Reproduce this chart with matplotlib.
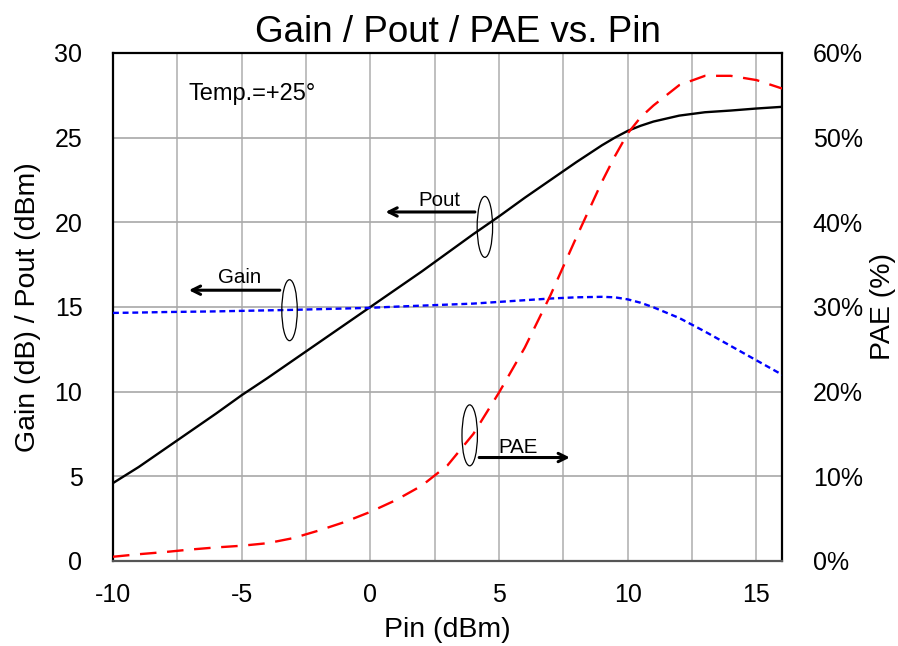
import matplotlib
matplotlib.use("Agg")
import matplotlib.pyplot as plt
from matplotlib.patches import Ellipse
from matplotlib.ticker import FuncFormatter, MultipleLocator

plt.rcParams['font.family'] = ['Liberation Sans', 'DejaVu Sans']
plt.rcParams['axes.unicode_minus'] = False

# data
pin = [-10, -9, -8, -7, -6, -5, -4, -3, -2, -1, 0, 1, 2, 3, 4, 5, 6, 7, 8, 9, 9.5, 10, 10.5, 11, 12, 13, 14, 15, 16]
pout = [4.6, 5.55, 6.6, 7.65, 8.7, 9.79, 10.8, 11.85, 12.9, 13.95, 15.0, 16.05, 17.1, 18.2, 19.3, 20.35,
        21.45, 22.5, 23.55, 24.55, 25.0, 25.4, 25.7, 25.95, 26.3, 26.5, 26.6, 26.72, 26.82]
gain = [14.65, 14.67, 14.7, 14.72, 14.74, 14.77, 14.8, 14.83, 14.87, 14.91, 14.95, 15.02, 15.08, 15.14, 15.2,
        15.3, 15.4, 15.5, 15.57, 15.6, 15.57, 15.45, 15.25, 14.98, 14.35, 13.55, 12.7, 11.85, 11.0]
pae = [0.5, 0.8, 1.05, 1.35, 1.6, 1.8, 2.1, 2.7, 3.6, 4.6, 5.8, 7.2, 8.9, 11.3, 15.0, 19.9, 25.2, 31.4,
       38.2, 44.8, 47.8, 50.5, 52.4, 53.8, 56.2, 57.3, 57.3, 56.8, 55.8]

x_ticks = [-10, -5, 0, 5, 10, 15]
y_ticks = [0, 5, 10, 15, 20, 25, 30]
pae_ticks = [0, 10, 20, 30, 40, 50, 60]

fig = plt.figure(figsize=(8.98, 6.46), dpi=100)
ax = fig.add_axes([0.1258, 0.1316, 0.7452, 0.7864])
ax2 = ax.twinx()

ax.set_xlim(-10, 16)
ax.set_ylim(0, 30)
ax2.set_ylim(0, 60)
ax.set_xticks(x_ticks)
ax.xaxis.set_minor_locator(MultipleLocator(2.5))
ax.set_yticks(y_ticks)
ax2.set_yticks(pae_ticks)
ax2.yaxis.set_major_formatter(FuncFormatter(lambda v, p: '%d%%' % v))

ax.grid(True, which='both', axis='x', color='#b4b4b4', lw=1.2)
ax.grid(True, which='major', axis='y', color='#a8a8a8', lw=1.2)
ax.set_axisbelow(True)

ax.tick_params(which='both', length=0, labelsize=18)
ax.tick_params(axis='x', pad=16)
ax.tick_params(axis='y', pad=22)
ax2.tick_params(length=0, labelsize=18, pad=22)

for sp in ax.spines.values():
    sp.set_color('black')
    sp.set_linewidth(1.6)
ax.spines['bottom'].set_color('#555555')
for sp in ax2.spines.values():
    sp.set_visible(False)

ax.plot(pin, pout, color='black', lw=1.7, zorder=3)
ax.plot(pin, gain, color='blue', lw=1.7, ls=(0, (2.5, 1.6)), zorder=3)
ax2.plot(pin, pae, color='red', lw=1.7, ls=(0, (7, 4.5)), zorder=3)

ax.set_xlabel('Pin (dBm)', fontsize=20.5, labelpad=7)
ax.set_ylabel('Gain (dB) / Pout (dBm)', fontsize=20.5, labelpad=10)
ax2.set_ylabel('PAE (%)', fontsize=20.5, labelpad=5)
ax.set_title('Gain / Pout / PAE vs. Pin', fontsize=26.5, pad=8, x=0.515)

ax.text(-7.05, 27.6, 'Temp.=+25°', fontsize=17, va='center', ha='left')

# ellipse markers and arrows
for cx, cy in [(4.45, 19.73), (-3.14, 14.81), (3.86, 7.42)]:
    ax.add_patch(Ellipse((cx, cy), 0.6, 3.6, fill=False, ec='black', lw=0.9, zorder=4))

arrow = dict(arrowstyle='->,head_length=0.6,head_width=0.3', color='black', lw=2.2)
ax.annotate('', xy=(0.48, 20.61), xytext=(4.17, 20.61), arrowprops=arrow, zorder=4)
ax.annotate('', xy=(-7.16, 15.99), xytext=(-3.41, 15.99), arrowprops=arrow, zorder=4)
ax.annotate('', xy=(7.86, 6.11), xytext=(4.12, 6.11), arrowprops=arrow, zorder=4)
ax.text(2.7, 21.3, 'Pout', fontsize=14.8, ha='center', va='center')
ax.text(-5.06, 16.76, 'Gain', fontsize=14.8, ha='center', va='center')
ax.text(5.73, 6.73, 'PAE', fontsize=14.8, ha='center', va='center')

fig.savefig('out.png', dpi=100)
